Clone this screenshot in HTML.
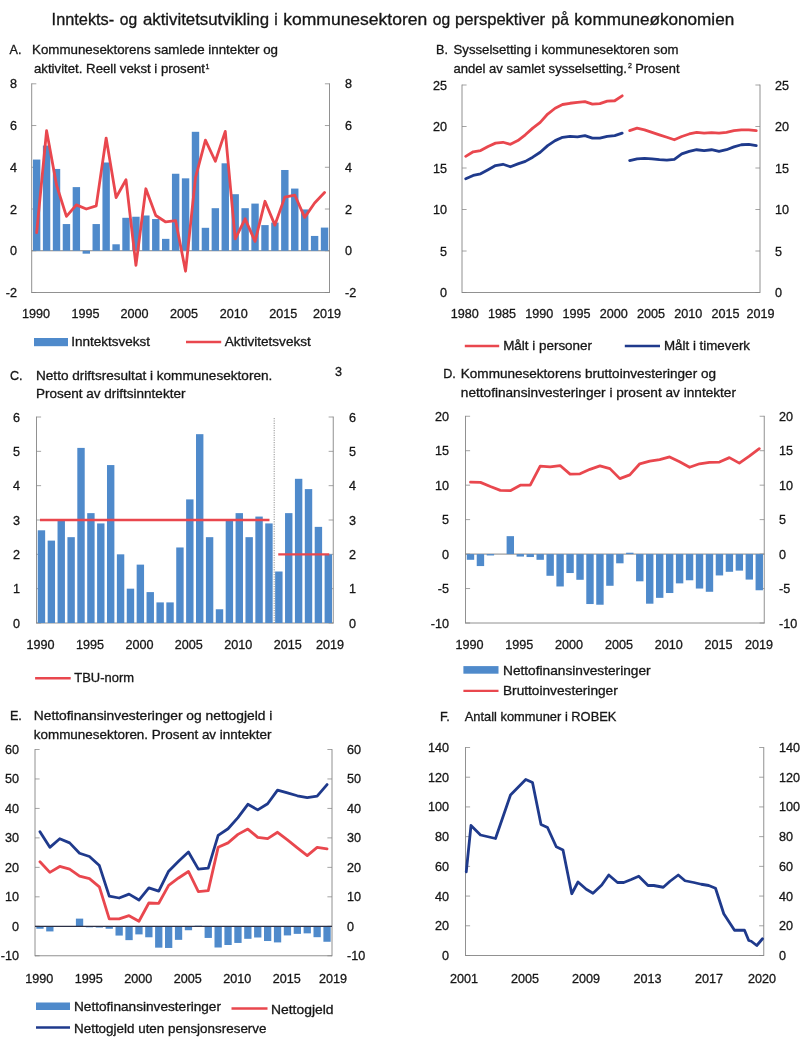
<!DOCTYPE html>
<html lang="no">
<head>
<meta charset="utf-8">
<title>Inntekts- og aktivitetsutvikling i kommunesektoren</title>
<style>
html,body{margin:0;padding:0;background:#fff}
svg{display:block}
text{stroke:#161616;stroke-width:.3px}
</style>
</head>
<body>
<svg width="800" height="1047" viewBox="0 0 800 1047">
<g font-family='"Liberation Sans", sans-serif' fill="#161616">
<text x="51.6" y="25" font-size="15.6" textLength="62.6" lengthAdjust="spacingAndGlyphs">Inntekts-</text>
<text x="128.5" y="25" font-size="15.6" text-anchor="middle">og</text>
<text x="142.9" y="25" font-size="15.6" textLength="126.1" lengthAdjust="spacingAndGlyphs">aktivitetsutvikling</text>
<text x="276" y="25" font-size="15.6" text-anchor="middle">i</text>
<text x="283.3" y="25" font-size="15.6" textLength="143.9" lengthAdjust="spacingAndGlyphs">kommunesektoren</text>
<text x="441.5" y="25" font-size="15.6" text-anchor="middle">og</text>
<text x="455" y="25" font-size="15.6" textLength="90.1" lengthAdjust="spacingAndGlyphs">perspektiver</text>
<text x="560.3" y="25" font-size="15.6" text-anchor="middle">på</text>
<text x="574.3" y="25" font-size="15.6" textLength="159.9" lengthAdjust="spacingAndGlyphs">kommuneøkonomien</text>
<line x1="31.7" y1="83.4" x2="31.7" y2="292.95" stroke="#858585" stroke-width="0.9"/>
<line x1="329.5" y1="83.4" x2="329.5" y2="292.95" stroke="#858585" stroke-width="0.9"/>
<line x1="31.7" y1="292.5" x2="329.5" y2="292.5" stroke="#858585" stroke-width="0.9"/>
<line x1="31.7" y1="292.5" x2="36.3" y2="292.5" stroke="#858585" stroke-width="0.75"/>
<line x1="324.9" y1="292.5" x2="329.5" y2="292.5" stroke="#858585" stroke-width="0.75"/>
<text x="17" y="297" font-size="12.6" text-anchor="end">-2</text>
<text x="345" y="297" font-size="12.6">-2</text>
<line x1="31.7" y1="250.76" x2="36.3" y2="250.76" stroke="#858585" stroke-width="0.75"/>
<line x1="324.9" y1="250.76" x2="329.5" y2="250.76" stroke="#858585" stroke-width="0.75"/>
<text x="17" y="255.26" font-size="12.6" text-anchor="end">0</text>
<text x="345" y="255.26" font-size="12.6">0</text>
<line x1="31.7" y1="209.02" x2="36.3" y2="209.02" stroke="#858585" stroke-width="0.75"/>
<line x1="324.9" y1="209.02" x2="329.5" y2="209.02" stroke="#858585" stroke-width="0.75"/>
<text x="17" y="213.52" font-size="12.6" text-anchor="end">2</text>
<text x="345" y="213.52" font-size="12.6">2</text>
<line x1="31.7" y1="167.28" x2="36.3" y2="167.28" stroke="#858585" stroke-width="0.75"/>
<line x1="324.9" y1="167.28" x2="329.5" y2="167.28" stroke="#858585" stroke-width="0.75"/>
<text x="17" y="171.78" font-size="12.6" text-anchor="end">4</text>
<text x="345" y="171.78" font-size="12.6">4</text>
<line x1="31.7" y1="125.54" x2="36.3" y2="125.54" stroke="#858585" stroke-width="0.75"/>
<line x1="324.9" y1="125.54" x2="329.5" y2="125.54" stroke="#858585" stroke-width="0.75"/>
<text x="17" y="130.04" font-size="12.6" text-anchor="end">6</text>
<text x="345" y="130.04" font-size="12.6">6</text>
<line x1="31.7" y1="83.8" x2="36.3" y2="83.8" stroke="#858585" stroke-width="0.75"/>
<line x1="324.9" y1="83.8" x2="329.5" y2="83.8" stroke="#858585" stroke-width="0.75"/>
<text x="17" y="88.3" font-size="12.6" text-anchor="end">8</text>
<text x="345" y="88.3" font-size="12.6">8</text>
<line x1="31.7" y1="250.76" x2="329.5" y2="250.76" stroke="#858585" stroke-width="1"/>
<rect x="32.96" y="159.56" width="7.4" height="91.2" fill="#4f8acb"/>
<rect x="42.89" y="145.58" width="7.4" height="105.18" fill="#4f8acb"/>
<rect x="52.82" y="168.95" width="7.4" height="81.81" fill="#4f8acb"/>
<rect x="62.74" y="224.05" width="7.4" height="26.71" fill="#4f8acb"/>
<rect x="72.67" y="187.11" width="7.4" height="63.65" fill="#4f8acb"/>
<rect x="82.6" y="250.76" width="7.4" height="2.92" fill="#4f8acb"/>
<rect x="92.52" y="224.05" width="7.4" height="26.71" fill="#4f8acb"/>
<rect x="102.45" y="162.48" width="7.4" height="88.28" fill="#4f8acb"/>
<rect x="112.38" y="244.29" width="7.4" height="6.47" fill="#4f8acb"/>
<rect x="122.3" y="217.79" width="7.4" height="32.97" fill="#4f8acb"/>
<rect x="132.23" y="216.74" width="7.4" height="34.02" fill="#4f8acb"/>
<rect x="142.16" y="215.49" width="7.4" height="35.27" fill="#4f8acb"/>
<rect x="152.08" y="219.04" width="7.4" height="31.72" fill="#4f8acb"/>
<rect x="162.01" y="238.86" width="7.4" height="11.9" fill="#4f8acb"/>
<rect x="171.94" y="173.75" width="7.4" height="77.01" fill="#4f8acb"/>
<rect x="181.86" y="178.34" width="7.4" height="72.42" fill="#4f8acb"/>
<rect x="191.79" y="131.8" width="7.4" height="118.96" fill="#4f8acb"/>
<rect x="201.72" y="227.8" width="7.4" height="22.96" fill="#4f8acb"/>
<rect x="211.64" y="208.19" width="7.4" height="42.57" fill="#4f8acb"/>
<rect x="221.57" y="163.31" width="7.4" height="87.45" fill="#4f8acb"/>
<rect x="231.5" y="194.2" width="7.4" height="56.56" fill="#4f8acb"/>
<rect x="241.42" y="208.19" width="7.4" height="42.57" fill="#4f8acb"/>
<rect x="251.35" y="203.59" width="7.4" height="47.17" fill="#4f8acb"/>
<rect x="261.28" y="225.09" width="7.4" height="25.67" fill="#4f8acb"/>
<rect x="271.2" y="222.59" width="7.4" height="28.17" fill="#4f8acb"/>
<rect x="281.13" y="169.99" width="7.4" height="80.77" fill="#4f8acb"/>
<rect x="291.06" y="188.57" width="7.4" height="62.19" fill="#4f8acb"/>
<rect x="300.98" y="209.44" width="7.4" height="41.32" fill="#4f8acb"/>
<rect x="310.91" y="235.94" width="7.4" height="14.82" fill="#4f8acb"/>
<rect x="320.84" y="227.59" width="7.4" height="23.17" fill="#4f8acb"/>
<polyline points="36.66,232.6 46.59,130.76 56.52,185.02 66.44,216.32 76.37,204.85 86.3,209.02 96.22,205.89 106.15,138.06 116.08,197.54 126,179.8 135.93,265.37 145.86,188.78 155.78,215.49 165.71,221.96 175.64,220.71 185.56,271.21 195.49,177.72 205.42,140.15 215.34,161.23 225.27,131.38 235.2,238.86 245.12,218.83 255.05,241.37 264.98,201.3 274.9,225.09 284.83,197.12 294.76,195.04 304.68,217.37 314.61,202.97 324.54,192.53" fill="none" stroke="#e9474e" stroke-width="2.8" stroke-linejoin="round" stroke-linecap="round"/>
<text x="36" y="317.5" font-size="12.6" text-anchor="middle">1990</text>
<text x="85.4" y="317.5" font-size="12.6" text-anchor="middle">1995</text>
<text x="134.4" y="317.5" font-size="12.6" text-anchor="middle">2000</text>
<text x="184" y="317.5" font-size="12.6" text-anchor="middle">2005</text>
<text x="233.75" y="317.5" font-size="12.6" text-anchor="middle">2010</text>
<text x="283.25" y="317.5" font-size="12.6" text-anchor="middle">2015</text>
<text x="326.9" y="317.5" font-size="12.6" text-anchor="middle">2019</text>
<text x="9.5" y="54" font-size="12.6">A.</text>
<text x="32" y="54" font-size="12.6" textLength="246" lengthAdjust="spacingAndGlyphs">Kommunesektorens samlede inntekter og</text>
<text x="34" y="73.25" font-size="12.6" textLength="171" lengthAdjust="spacingAndGlyphs">aktivitet. Reell vekst i prosent</text>
<text x="205.6" y="68.5" font-size="7">1</text>
<rect x="34" y="338" width="34" height="8.2" fill="#4f8acb"/>
<text x="71.2" y="346.4" font-size="12.6" textLength="78.8" lengthAdjust="spacingAndGlyphs">Inntektsvekst</text>
<line x1="186" y1="342" x2="221.2" y2="342" stroke="#e9474e" stroke-width="2.4"/>
<text x="224.8" y="346.4" font-size="12.6" textLength="86" lengthAdjust="spacingAndGlyphs">Aktivitetsvekst</text>
<line x1="462" y1="84.6" x2="462" y2="292.95" stroke="#858585" stroke-width="0.9"/>
<line x1="760" y1="84.6" x2="760" y2="292.95" stroke="#858585" stroke-width="0.9"/>
<line x1="462" y1="292.5" x2="760" y2="292.5" stroke="#858585" stroke-width="0.9"/>
<line x1="462" y1="292.5" x2="466.6" y2="292.5" stroke="#858585" stroke-width="0.75"/>
<line x1="755.4" y1="292.5" x2="760" y2="292.5" stroke="#858585" stroke-width="0.75"/>
<text x="447" y="297" font-size="12.6" text-anchor="end">0</text>
<text x="775" y="297" font-size="12.6">0</text>
<line x1="462" y1="251" x2="466.6" y2="251" stroke="#858585" stroke-width="0.75"/>
<line x1="755.4" y1="251" x2="760" y2="251" stroke="#858585" stroke-width="0.75"/>
<text x="447" y="255.5" font-size="12.6" text-anchor="end">5</text>
<text x="775" y="255.5" font-size="12.6">5</text>
<line x1="462" y1="209.5" x2="466.6" y2="209.5" stroke="#858585" stroke-width="0.75"/>
<line x1="755.4" y1="209.5" x2="760" y2="209.5" stroke="#858585" stroke-width="0.75"/>
<text x="447" y="214" font-size="12.6" text-anchor="end">10</text>
<text x="775" y="214" font-size="12.6">10</text>
<line x1="462" y1="168" x2="466.6" y2="168" stroke="#858585" stroke-width="0.75"/>
<line x1="755.4" y1="168" x2="760" y2="168" stroke="#858585" stroke-width="0.75"/>
<text x="447" y="172.5" font-size="12.6" text-anchor="end">15</text>
<text x="775" y="172.5" font-size="12.6">15</text>
<line x1="462" y1="126.5" x2="466.6" y2="126.5" stroke="#858585" stroke-width="0.75"/>
<line x1="755.4" y1="126.5" x2="760" y2="126.5" stroke="#858585" stroke-width="0.75"/>
<text x="447" y="131" font-size="12.6" text-anchor="end">20</text>
<text x="775" y="131" font-size="12.6">20</text>
<line x1="462" y1="85" x2="466.6" y2="85" stroke="#858585" stroke-width="0.75"/>
<line x1="755.4" y1="85" x2="760" y2="85" stroke="#858585" stroke-width="0.75"/>
<text x="447" y="89.5" font-size="12.6" text-anchor="end">25</text>
<text x="775" y="89.5" font-size="12.6">25</text>
<polyline points="465.73,156.38 473.18,151.81 480.62,150.57 488.07,146.42 495.52,143.1 502.98,142.27 510.43,144.34 517.88,140.61 525.33,134.8 532.77,128.16 540.23,122.35 547.67,114.05 555.12,108.24 562.58,104.5 570.02,103.26 577.48,102.43 584.92,101.6 592.38,104.09 599.83,103.68 607.27,101.19 614.73,100.77 622.17,95.79" fill="none" stroke="#e9474e" stroke-width="2.8" stroke-linejoin="round" stroke-linecap="round"/>
<polyline points="629.62,130.65 637.08,128.16 644.52,129.82 651.98,132.31 659.42,134.8 666.88,137.29 674.33,139.78 681.77,136.46 689.23,133.97 696.67,132.31 704.12,133.14 711.58,132.72 719.03,133.14 726.48,132.31 733.92,130.65 741.38,129.82 748.83,129.82 756.28,130.65" fill="none" stroke="#e9474e" stroke-width="2.8" stroke-linejoin="round" stroke-linecap="round"/>
<polyline points="465.73,178.79 473.18,175.47 480.62,173.81 488.07,169.66 495.52,165.51 502.98,164.26 510.43,166.75 517.88,163.85 525.33,161.36 532.77,157.21 540.23,152.23 547.67,145.59 555.12,140.61 562.58,137.29 570.02,136.46 577.48,136.88 584.92,135.63 592.38,138.12 599.83,138.12 607.27,136.46 614.73,135.63 622.17,133.14" fill="none" stroke="#1f3a8c" stroke-width="2.8" stroke-linejoin="round" stroke-linecap="round"/>
<polyline points="629.62,160.53 637.08,158.87 644.52,158.46 651.98,158.87 659.42,159.7 666.88,160.12 674.33,159.28 681.77,153.89 689.23,151.4 696.67,149.74 704.12,150.57 711.58,149.74 719.03,151.4 726.48,149.74 733.92,146.84 741.38,144.76 748.83,144.34 756.28,145.59" fill="none" stroke="#1f3a8c" stroke-width="2.8" stroke-linejoin="round" stroke-linecap="round"/>
<text x="464.7" y="317.5" font-size="12.6" text-anchor="middle">1980</text>
<text x="501.95" y="317.5" font-size="12.6" text-anchor="middle">1985</text>
<text x="539.2" y="317.5" font-size="12.6" text-anchor="middle">1990</text>
<text x="576.45" y="317.5" font-size="12.6" text-anchor="middle">1995</text>
<text x="613.7" y="317.5" font-size="12.6" text-anchor="middle">2000</text>
<text x="650.95" y="317.5" font-size="12.6" text-anchor="middle">2005</text>
<text x="688.2" y="317.5" font-size="12.6" text-anchor="middle">2010</text>
<text x="725.45" y="317.5" font-size="12.6" text-anchor="middle">2015</text>
<text x="760.5" y="317.5" font-size="12.6" text-anchor="middle">2019</text>
<text x="436" y="54" font-size="12.6">B.</text>
<text x="453.5" y="54" font-size="12.6" textLength="225" lengthAdjust="spacingAndGlyphs">Sysselsetting i kommunesektoren som</text>
<text x="453.5" y="73" font-size="12.6" textLength="173.5" lengthAdjust="spacingAndGlyphs">andel av samlet sysselsetting.</text>
<text x="628" y="68" font-size="7">2</text>
<text x="635.2" y="73" font-size="12.6" textLength="44.3" lengthAdjust="spacingAndGlyphs">Prosent</text>
<line x1="464.8" y1="346" x2="499.2" y2="346" stroke="#e9474e" stroke-width="2.4"/>
<text x="503.2" y="350.4" font-size="12.6" textLength="88.8" lengthAdjust="spacingAndGlyphs">Målt i personer</text>
<line x1="624.8" y1="346" x2="660" y2="346" stroke="#1f3a8c" stroke-width="2.4"/>
<text x="664" y="350.4" font-size="12.6" textLength="86" lengthAdjust="spacingAndGlyphs">Målt i timeverk</text>
<line x1="36.5" y1="416.6" x2="36.5" y2="623.45" stroke="#858585" stroke-width="0.9"/>
<line x1="333.25" y1="416.6" x2="333.25" y2="623.45" stroke="#858585" stroke-width="0.9"/>
<line x1="36.5" y1="623" x2="333.25" y2="623" stroke="#858585" stroke-width="0.9"/>
<line x1="36.5" y1="623" x2="41.1" y2="623" stroke="#858585" stroke-width="0.75"/>
<line x1="328.65" y1="623" x2="333.25" y2="623" stroke="#858585" stroke-width="0.75"/>
<text x="20" y="627.5" font-size="12.6" text-anchor="end">0</text>
<text x="349" y="627.5" font-size="12.6">0</text>
<line x1="36.5" y1="588.67" x2="41.1" y2="588.67" stroke="#858585" stroke-width="0.75"/>
<line x1="328.65" y1="588.67" x2="333.25" y2="588.67" stroke="#858585" stroke-width="0.75"/>
<text x="20" y="593.17" font-size="12.6" text-anchor="end">1</text>
<text x="349" y="593.17" font-size="12.6">1</text>
<line x1="36.5" y1="554.33" x2="41.1" y2="554.33" stroke="#858585" stroke-width="0.75"/>
<line x1="328.65" y1="554.33" x2="333.25" y2="554.33" stroke="#858585" stroke-width="0.75"/>
<text x="20" y="558.83" font-size="12.6" text-anchor="end">2</text>
<text x="349" y="558.83" font-size="12.6">2</text>
<line x1="36.5" y1="520" x2="41.1" y2="520" stroke="#858585" stroke-width="0.75"/>
<line x1="328.65" y1="520" x2="333.25" y2="520" stroke="#858585" stroke-width="0.75"/>
<text x="20" y="524.5" font-size="12.6" text-anchor="end">3</text>
<text x="349" y="524.5" font-size="12.6">3</text>
<line x1="36.5" y1="485.67" x2="41.1" y2="485.67" stroke="#858585" stroke-width="0.75"/>
<line x1="328.65" y1="485.67" x2="333.25" y2="485.67" stroke="#858585" stroke-width="0.75"/>
<text x="20" y="490.17" font-size="12.6" text-anchor="end">4</text>
<text x="349" y="490.17" font-size="12.6">4</text>
<line x1="36.5" y1="451.33" x2="41.1" y2="451.33" stroke="#858585" stroke-width="0.75"/>
<line x1="328.65" y1="451.33" x2="333.25" y2="451.33" stroke="#858585" stroke-width="0.75"/>
<text x="20" y="455.83" font-size="12.6" text-anchor="end">5</text>
<text x="349" y="455.83" font-size="12.6">5</text>
<line x1="36.5" y1="417" x2="41.1" y2="417" stroke="#858585" stroke-width="0.75"/>
<line x1="328.65" y1="417" x2="333.25" y2="417" stroke="#858585" stroke-width="0.75"/>
<text x="20" y="421.5" font-size="12.6" text-anchor="end">6</text>
<text x="349" y="421.5" font-size="12.6">6</text>
<rect x="37.75" y="530.3" width="7.4" height="92.7" fill="#4f8acb"/>
<rect x="47.64" y="540.6" width="7.4" height="82.4" fill="#4f8acb"/>
<rect x="57.53" y="520" width="7.4" height="103" fill="#4f8acb"/>
<rect x="67.42" y="537.17" width="7.4" height="85.83" fill="#4f8acb"/>
<rect x="77.31" y="447.9" width="7.4" height="175.1" fill="#4f8acb"/>
<rect x="87.2" y="513.13" width="7.4" height="109.87" fill="#4f8acb"/>
<rect x="97.1" y="523.43" width="7.4" height="99.57" fill="#4f8acb"/>
<rect x="106.99" y="465.07" width="7.4" height="157.93" fill="#4f8acb"/>
<rect x="116.88" y="554.33" width="7.4" height="68.67" fill="#4f8acb"/>
<rect x="126.77" y="588.67" width="7.4" height="34.33" fill="#4f8acb"/>
<rect x="136.66" y="564.63" width="7.4" height="58.37" fill="#4f8acb"/>
<rect x="146.55" y="592.1" width="7.4" height="30.9" fill="#4f8acb"/>
<rect x="156.45" y="602.4" width="7.4" height="20.6" fill="#4f8acb"/>
<rect x="166.34" y="602.4" width="7.4" height="20.6" fill="#4f8acb"/>
<rect x="176.23" y="547.47" width="7.4" height="75.53" fill="#4f8acb"/>
<rect x="186.12" y="499.4" width="7.4" height="123.6" fill="#4f8acb"/>
<rect x="196.01" y="434.17" width="7.4" height="188.83" fill="#4f8acb"/>
<rect x="205.9" y="537.17" width="7.4" height="85.83" fill="#4f8acb"/>
<rect x="215.8" y="609.27" width="7.4" height="13.73" fill="#4f8acb"/>
<rect x="225.69" y="520" width="7.4" height="103" fill="#4f8acb"/>
<rect x="235.58" y="513.13" width="7.4" height="109.87" fill="#4f8acb"/>
<rect x="245.47" y="537.17" width="7.4" height="85.83" fill="#4f8acb"/>
<rect x="255.36" y="516.57" width="7.4" height="106.43" fill="#4f8acb"/>
<rect x="265.25" y="523.43" width="7.4" height="99.57" fill="#4f8acb"/>
<rect x="275.15" y="571.5" width="7.4" height="51.5" fill="#4f8acb"/>
<rect x="285.04" y="513.13" width="7.4" height="109.87" fill="#4f8acb"/>
<rect x="294.93" y="478.8" width="7.4" height="144.2" fill="#4f8acb"/>
<rect x="304.82" y="489.1" width="7.4" height="133.9" fill="#4f8acb"/>
<rect x="314.71" y="526.87" width="7.4" height="96.13" fill="#4f8acb"/>
<rect x="324.6" y="554.33" width="7.4" height="68.67" fill="#4f8acb"/>
<line x1="274.2" y1="418" x2="274.2" y2="623" stroke="#777" stroke-width="0.8" stroke-dasharray="1.2,1.2"/>
<line x1="40" y1="520" x2="269.5" y2="520" stroke="#e9474e" stroke-width="2.3"/>
<line x1="278.25" y1="554.33" x2="329.25" y2="554.33" stroke="#e9474e" stroke-width="2.3"/>
<text x="40.5" y="649" font-size="12.6" text-anchor="middle">1990</text>
<text x="89.95" y="649" font-size="12.6" text-anchor="middle">1995</text>
<text x="139.4" y="649" font-size="12.6" text-anchor="middle">2000</text>
<text x="188.85" y="649" font-size="12.6" text-anchor="middle">2005</text>
<text x="238.3" y="649" font-size="12.6" text-anchor="middle">2010</text>
<text x="287.75" y="649" font-size="12.6" text-anchor="middle">2015</text>
<text x="330" y="649" font-size="12.6" text-anchor="middle">2019</text>
<text x="9.9" y="379.75" font-size="12.6">C.</text>
<text x="36" y="379.75" font-size="12.6" textLength="236.3" lengthAdjust="spacingAndGlyphs">Netto driftsresultat i kommunesektoren.</text>
<text x="36" y="397.75" font-size="12.6" textLength="149.4" lengthAdjust="spacingAndGlyphs">Prosent av driftsinntekter</text>
<text x="335" y="375.8" font-size="12.6">3</text>
<line x1="35.1" y1="678.25" x2="70.7" y2="678.25" stroke="#e9474e" stroke-width="2.4"/>
<text x="74.25" y="682" font-size="12.6" textLength="59.75" lengthAdjust="spacingAndGlyphs">TBU-norm</text>
<line x1="465.5" y1="415.85" x2="465.5" y2="623.45" stroke="#858585" stroke-width="0.9"/>
<line x1="764.25" y1="415.85" x2="764.25" y2="623.45" stroke="#858585" stroke-width="0.9"/>
<line x1="465.5" y1="623" x2="764.25" y2="623" stroke="#858585" stroke-width="0.9"/>
<line x1="465.5" y1="623" x2="470.1" y2="623" stroke="#858585" stroke-width="0.75"/>
<line x1="759.65" y1="623" x2="764.25" y2="623" stroke="#858585" stroke-width="0.75"/>
<text x="449" y="627.5" font-size="12.6" text-anchor="end">-10</text>
<text x="779" y="627.5" font-size="12.6">-10</text>
<line x1="465.5" y1="588.54" x2="470.1" y2="588.54" stroke="#858585" stroke-width="0.75"/>
<line x1="759.65" y1="588.54" x2="764.25" y2="588.54" stroke="#858585" stroke-width="0.75"/>
<text x="449" y="593.04" font-size="12.6" text-anchor="end">-5</text>
<text x="779" y="593.04" font-size="12.6">-5</text>
<line x1="465.5" y1="554.08" x2="470.1" y2="554.08" stroke="#858585" stroke-width="0.75"/>
<line x1="759.65" y1="554.08" x2="764.25" y2="554.08" stroke="#858585" stroke-width="0.75"/>
<text x="449" y="558.58" font-size="12.6" text-anchor="end">0</text>
<text x="779" y="558.58" font-size="12.6">0</text>
<line x1="465.5" y1="519.62" x2="470.1" y2="519.62" stroke="#858585" stroke-width="0.75"/>
<line x1="759.65" y1="519.62" x2="764.25" y2="519.62" stroke="#858585" stroke-width="0.75"/>
<text x="449" y="524.12" font-size="12.6" text-anchor="end">5</text>
<text x="779" y="524.12" font-size="12.6">5</text>
<line x1="465.5" y1="485.17" x2="470.1" y2="485.17" stroke="#858585" stroke-width="0.75"/>
<line x1="759.65" y1="485.17" x2="764.25" y2="485.17" stroke="#858585" stroke-width="0.75"/>
<text x="449" y="489.67" font-size="12.6" text-anchor="end">10</text>
<text x="779" y="489.67" font-size="12.6">10</text>
<line x1="465.5" y1="450.71" x2="470.1" y2="450.71" stroke="#858585" stroke-width="0.75"/>
<line x1="759.65" y1="450.71" x2="764.25" y2="450.71" stroke="#858585" stroke-width="0.75"/>
<text x="449" y="455.21" font-size="12.6" text-anchor="end">15</text>
<text x="779" y="455.21" font-size="12.6">15</text>
<line x1="465.5" y1="416.25" x2="470.1" y2="416.25" stroke="#858585" stroke-width="0.75"/>
<line x1="759.65" y1="416.25" x2="764.25" y2="416.25" stroke="#858585" stroke-width="0.75"/>
<text x="449" y="420.75" font-size="12.6" text-anchor="end">20</text>
<text x="779" y="420.75" font-size="12.6">20</text>
<line x1="465.5" y1="554.08" x2="764.25" y2="554.08" stroke="#858585" stroke-width="1"/>
<rect x="466.78" y="554.08" width="7.4" height="5.72" fill="#4f8acb"/>
<rect x="476.74" y="554.08" width="7.4" height="11.99" fill="#4f8acb"/>
<rect x="486.7" y="554.08" width="7.4" height="1.38" fill="#4f8acb"/>
<rect x="506.61" y="536.16" width="7.4" height="17.92" fill="#4f8acb"/>
<rect x="516.57" y="554.08" width="7.4" height="2.48" fill="#4f8acb"/>
<rect x="526.53" y="554.08" width="7.4" height="2.96" fill="#4f8acb"/>
<rect x="536.49" y="554.08" width="7.4" height="5.72" fill="#4f8acb"/>
<rect x="546.45" y="554.08" width="7.4" height="21.71" fill="#4f8acb"/>
<rect x="556.4" y="554.08" width="7.4" height="32.39" fill="#4f8acb"/>
<rect x="566.36" y="554.08" width="7.4" height="18.95" fill="#4f8acb"/>
<rect x="576.32" y="554.08" width="7.4" height="25.71" fill="#4f8acb"/>
<rect x="586.28" y="554.08" width="7.4" height="49.96" fill="#4f8acb"/>
<rect x="596.24" y="554.08" width="7.4" height="50.65" fill="#4f8acb"/>
<rect x="606.2" y="554.08" width="7.4" height="31.7" fill="#4f8acb"/>
<rect x="616.15" y="554.08" width="7.4" height="9.23" fill="#4f8acb"/>
<rect x="626.11" y="552.71" width="7.4" height="1.38" fill="#4f8acb"/>
<rect x="636.07" y="554.08" width="7.4" height="27.22" fill="#4f8acb"/>
<rect x="646.03" y="554.08" width="7.4" height="49.62" fill="#4f8acb"/>
<rect x="655.99" y="554.08" width="7.4" height="43.76" fill="#4f8acb"/>
<rect x="665.95" y="554.08" width="7.4" height="38.94" fill="#4f8acb"/>
<rect x="675.9" y="554.08" width="7.4" height="29.29" fill="#4f8acb"/>
<rect x="685.86" y="554.08" width="7.4" height="26.19" fill="#4f8acb"/>
<rect x="695.82" y="554.08" width="7.4" height="34.46" fill="#4f8acb"/>
<rect x="705.78" y="554.08" width="7.4" height="37.7" fill="#4f8acb"/>
<rect x="715.74" y="554.08" width="7.4" height="21.36" fill="#4f8acb"/>
<rect x="725.7" y="554.08" width="7.4" height="17.71" fill="#4f8acb"/>
<rect x="735.65" y="554.08" width="7.4" height="16.54" fill="#4f8acb"/>
<rect x="745.61" y="554.08" width="7.4" height="25.5" fill="#4f8acb"/>
<rect x="755.57" y="554.08" width="7.4" height="36.18" fill="#4f8acb"/>
<polyline points="470.48,482.2 480.44,482.41 490.4,486.54 500.35,490.34 510.31,490.68 520.27,485.17 530.23,485.17 540.19,466.21 550.15,466.9 560.1,465.53 570.06,474.14 580.02,473.8 589.98,469.32 599.94,465.87 609.9,468.63 619.85,478.62 629.81,474.83 639.77,463.8 649.73,461.05 659.69,459.67 669.65,456.91 679.6,461.74 689.56,467.25 699.52,463.8 709.48,462.42 719.44,462.08 729.4,457.6 739.35,463.11 749.31,456.22 759.27,448.64" fill="none" stroke="#e9474e" stroke-width="2.8" stroke-linejoin="round" stroke-linecap="round"/>
<text x="469.5" y="649" font-size="12.6" text-anchor="middle">1990</text>
<text x="519.3" y="649" font-size="12.6" text-anchor="middle">1995</text>
<text x="569.1" y="649" font-size="12.6" text-anchor="middle">2000</text>
<text x="618.9" y="649" font-size="12.6" text-anchor="middle">2005</text>
<text x="668.7" y="649" font-size="12.6" text-anchor="middle">2010</text>
<text x="718.5" y="649" font-size="12.6" text-anchor="middle">2015</text>
<text x="759" y="649" font-size="12.6" text-anchor="middle">2019</text>
<text x="443.2" y="378" font-size="12.6">D.</text>
<text x="460.8" y="378" font-size="12.6" textLength="255.2" lengthAdjust="spacingAndGlyphs">Kommunesektorens bruttoinvesteringer og</text>
<text x="460.8" y="396.8" font-size="12.6" textLength="275.2" lengthAdjust="spacingAndGlyphs">nettofinansinvesteringer i prosent av inntekter</text>
<rect x="463.4" y="666.1" width="35.1" height="7.6" fill="#4f8acb"/>
<text x="503" y="674.6" font-size="12.6" textLength="147.6" lengthAdjust="spacingAndGlyphs">Nettofinansinvesteringer</text>
<line x1="463.4" y1="690.85" x2="498.5" y2="690.85" stroke="#e9474e" stroke-width="2.4"/>
<text x="503" y="694.9" font-size="12.6" textLength="114.75" lengthAdjust="spacingAndGlyphs">Bruttoinvesteringer</text>
<line x1="35" y1="749.1" x2="35" y2="956.2" stroke="#858585" stroke-width="0.9"/>
<line x1="332" y1="749.1" x2="332" y2="956.2" stroke="#858585" stroke-width="0.9"/>
<line x1="35" y1="955.75" x2="332" y2="955.75" stroke="#858585" stroke-width="0.9"/>
<line x1="35" y1="955.75" x2="39.6" y2="955.75" stroke="#858585" stroke-width="0.75"/>
<line x1="327.4" y1="955.75" x2="332" y2="955.75" stroke="#858585" stroke-width="0.75"/>
<text x="19" y="960.25" font-size="12.6" text-anchor="end">-10</text>
<text x="347" y="960.25" font-size="12.6">-10</text>
<line x1="35" y1="926.29" x2="39.6" y2="926.29" stroke="#858585" stroke-width="0.75"/>
<line x1="327.4" y1="926.29" x2="332" y2="926.29" stroke="#858585" stroke-width="0.75"/>
<text x="19" y="930.79" font-size="12.6" text-anchor="end">0</text>
<text x="347" y="930.79" font-size="12.6">0</text>
<line x1="35" y1="896.82" x2="39.6" y2="896.82" stroke="#858585" stroke-width="0.75"/>
<line x1="327.4" y1="896.82" x2="332" y2="896.82" stroke="#858585" stroke-width="0.75"/>
<text x="19" y="901.32" font-size="12.6" text-anchor="end">10</text>
<text x="347" y="901.32" font-size="12.6">10</text>
<line x1="35" y1="867.36" x2="39.6" y2="867.36" stroke="#858585" stroke-width="0.75"/>
<line x1="327.4" y1="867.36" x2="332" y2="867.36" stroke="#858585" stroke-width="0.75"/>
<text x="19" y="871.86" font-size="12.6" text-anchor="end">20</text>
<text x="347" y="871.86" font-size="12.6">20</text>
<line x1="35" y1="837.89" x2="39.6" y2="837.89" stroke="#858585" stroke-width="0.75"/>
<line x1="327.4" y1="837.89" x2="332" y2="837.89" stroke="#858585" stroke-width="0.75"/>
<text x="19" y="842.39" font-size="12.6" text-anchor="end">30</text>
<text x="347" y="842.39" font-size="12.6">30</text>
<line x1="35" y1="808.43" x2="39.6" y2="808.43" stroke="#858585" stroke-width="0.75"/>
<line x1="327.4" y1="808.43" x2="332" y2="808.43" stroke="#858585" stroke-width="0.75"/>
<text x="19" y="812.93" font-size="12.6" text-anchor="end">40</text>
<text x="347" y="812.93" font-size="12.6">40</text>
<line x1="35" y1="778.96" x2="39.6" y2="778.96" stroke="#858585" stroke-width="0.75"/>
<line x1="327.4" y1="778.96" x2="332" y2="778.96" stroke="#858585" stroke-width="0.75"/>
<text x="19" y="783.46" font-size="12.6" text-anchor="end">50</text>
<text x="347" y="783.46" font-size="12.6">50</text>
<line x1="35" y1="749.5" x2="39.6" y2="749.5" stroke="#858585" stroke-width="0.75"/>
<line x1="327.4" y1="749.5" x2="332" y2="749.5" stroke="#858585" stroke-width="0.75"/>
<text x="19" y="754" font-size="12.6" text-anchor="end">60</text>
<text x="347" y="754" font-size="12.6">60</text>
<rect x="36.3" y="926.29" width="7.3" height="2.45" fill="#4f8acb"/>
<rect x="46.2" y="926.29" width="7.3" height="5.13" fill="#4f8acb"/>
<rect x="56.1" y="926.29" width="7.3" height="0.59" fill="#4f8acb"/>
<rect x="75.9" y="918.62" width="7.3" height="7.66" fill="#4f8acb"/>
<rect x="85.8" y="926.29" width="7.3" height="1.06" fill="#4f8acb"/>
<rect x="95.7" y="926.29" width="7.3" height="1.27" fill="#4f8acb"/>
<rect x="105.6" y="926.29" width="7.3" height="2.45" fill="#4f8acb"/>
<rect x="115.5" y="926.29" width="7.3" height="9.28" fill="#4f8acb"/>
<rect x="125.4" y="926.29" width="7.3" height="13.85" fill="#4f8acb"/>
<rect x="135.3" y="926.29" width="7.3" height="8.1" fill="#4f8acb"/>
<rect x="145.2" y="926.29" width="7.3" height="10.99" fill="#4f8acb"/>
<rect x="155.1" y="926.29" width="7.3" height="21.36" fill="#4f8acb"/>
<rect x="165" y="926.29" width="7.3" height="21.66" fill="#4f8acb"/>
<rect x="174.9" y="926.29" width="7.3" height="13.55" fill="#4f8acb"/>
<rect x="184.8" y="926.29" width="7.3" height="3.95" fill="#4f8acb"/>
<rect x="194.7" y="925.7" width="7.3" height="0.59" fill="#4f8acb"/>
<rect x="204.6" y="926.29" width="7.3" height="11.64" fill="#4f8acb"/>
<rect x="214.5" y="926.29" width="7.3" height="21.21" fill="#4f8acb"/>
<rect x="224.4" y="926.29" width="7.3" height="18.71" fill="#4f8acb"/>
<rect x="234.3" y="926.29" width="7.3" height="16.65" fill="#4f8acb"/>
<rect x="244.2" y="926.29" width="7.3" height="12.52" fill="#4f8acb"/>
<rect x="254.1" y="926.29" width="7.3" height="11.2" fill="#4f8acb"/>
<rect x="264" y="926.29" width="7.3" height="14.73" fill="#4f8acb"/>
<rect x="273.9" y="926.29" width="7.3" height="16.12" fill="#4f8acb"/>
<rect x="283.8" y="926.29" width="7.3" height="9.13" fill="#4f8acb"/>
<rect x="293.7" y="926.29" width="7.3" height="7.57" fill="#4f8acb"/>
<rect x="303.6" y="926.29" width="7.3" height="7.07" fill="#4f8acb"/>
<rect x="313.5" y="926.29" width="7.3" height="10.9" fill="#4f8acb"/>
<rect x="323.4" y="926.29" width="7.3" height="15.47" fill="#4f8acb"/>
<line x1="35" y1="926.29" x2="332" y2="926.29" stroke="#2a2f45" stroke-width="1.2"/>
<polyline points="39.95,861.76 49.85,872.37 59.75,866.47 69.65,869.12 79.55,876.2 89.45,878.55 99.35,886.8 109.25,918.92 119.15,918.92 129.05,915.68 138.95,921.28 148.85,903.01 158.75,903.3 168.65,885.33 178.55,877.96 188.45,871.48 198.35,891.52 208.25,890.63 218.15,847.32 228.05,842.9 237.95,834.36 247.85,829.05 257.75,837.3 267.65,838.63 277.55,832.29 287.45,839.96 297.35,847.91 307.25,855.57 317.15,847.32 327.05,848.79" fill="none" stroke="#e9474e" stroke-width="2.8" stroke-linejoin="round" stroke-linecap="round"/>
<polyline points="39.95,831.71 49.85,847.32 59.75,838.78 69.65,842.9 79.55,853.21 89.45,856.46 99.35,865.59 109.25,896.08 119.15,898 129.05,894.17 138.95,900.06 148.85,887.83 158.75,891.08 168.65,871.19 178.55,861.17 188.45,852.04 198.35,869.12 208.25,868.09 218.15,835.39 228.05,828.76 237.95,817.56 247.85,804.3 257.75,809.9 267.65,803.71 277.55,790.16 287.45,792.96 297.35,795.76 307.25,797.53 317.15,796.2 327.05,784.56" fill="none" stroke="#1f3a8c" stroke-width="2.8" stroke-linejoin="round" stroke-linecap="round"/>
<text x="39.25" y="982.5" font-size="12.6" text-anchor="middle">1990</text>
<text x="88.75" y="982.5" font-size="12.6" text-anchor="middle">1995</text>
<text x="138.25" y="982.5" font-size="12.6" text-anchor="middle">2000</text>
<text x="187.75" y="982.5" font-size="12.6" text-anchor="middle">2005</text>
<text x="237.25" y="982.5" font-size="12.6" text-anchor="middle">2010</text>
<text x="286.75" y="982.5" font-size="12.6" text-anchor="middle">2015</text>
<text x="333" y="982.5" font-size="12.6" text-anchor="middle">2019</text>
<text x="9.9" y="720" font-size="12.6">E.</text>
<text x="33.75" y="720" font-size="12.6" textLength="238.55" lengthAdjust="spacingAndGlyphs">Nettofinansinvesteringer og nettogjeld i</text>
<text x="33.75" y="739" font-size="12.6" textLength="237.65" lengthAdjust="spacingAndGlyphs">kommunesektoren. Prosent av inntekter</text>
<rect x="36" y="1002.5" width="34" height="7.5" fill="#4f8acb"/>
<text x="74" y="1011" font-size="12.6" textLength="147" lengthAdjust="spacingAndGlyphs">Nettofinansinvesteringer</text>
<line x1="231.5" y1="1008.5" x2="267.5" y2="1008.5" stroke="#e9474e" stroke-width="2.4"/>
<text x="271" y="1013.5" font-size="12.6" textLength="62.5" lengthAdjust="spacingAndGlyphs">Nettogjeld</text>
<line x1="36" y1="1027.5" x2="70" y2="1027.5" stroke="#1f3a8c" stroke-width="2.4"/>
<text x="74" y="1032.5" font-size="12.6" textLength="192.5" lengthAdjust="spacingAndGlyphs">Nettogjeld uten pensjonsreserve</text>
<line x1="465.5" y1="747.1" x2="465.5" y2="955.95" stroke="#858585" stroke-width="0.9"/>
<line x1="763.75" y1="747.1" x2="763.75" y2="955.95" stroke="#858585" stroke-width="0.9"/>
<line x1="465.5" y1="955.5" x2="763.75" y2="955.5" stroke="#858585" stroke-width="0.9"/>
<line x1="465.5" y1="955.5" x2="470.1" y2="955.5" stroke="#858585" stroke-width="0.75"/>
<line x1="759.15" y1="955.5" x2="763.75" y2="955.5" stroke="#858585" stroke-width="0.75"/>
<text x="449" y="960" font-size="12.6" text-anchor="end">0</text>
<text x="779" y="960" font-size="12.6">0</text>
<line x1="465.5" y1="925.79" x2="470.1" y2="925.79" stroke="#858585" stroke-width="0.75"/>
<line x1="759.15" y1="925.79" x2="763.75" y2="925.79" stroke="#858585" stroke-width="0.75"/>
<text x="449" y="930.29" font-size="12.6" text-anchor="end">20</text>
<text x="779" y="930.29" font-size="12.6">20</text>
<line x1="465.5" y1="896.07" x2="470.1" y2="896.07" stroke="#858585" stroke-width="0.75"/>
<line x1="759.15" y1="896.07" x2="763.75" y2="896.07" stroke="#858585" stroke-width="0.75"/>
<text x="449" y="900.57" font-size="12.6" text-anchor="end">40</text>
<text x="779" y="900.57" font-size="12.6">40</text>
<line x1="465.5" y1="866.36" x2="470.1" y2="866.36" stroke="#858585" stroke-width="0.75"/>
<line x1="759.15" y1="866.36" x2="763.75" y2="866.36" stroke="#858585" stroke-width="0.75"/>
<text x="449" y="870.86" font-size="12.6" text-anchor="end">60</text>
<text x="779" y="870.86" font-size="12.6">60</text>
<line x1="465.5" y1="836.64" x2="470.1" y2="836.64" stroke="#858585" stroke-width="0.75"/>
<line x1="759.15" y1="836.64" x2="763.75" y2="836.64" stroke="#858585" stroke-width="0.75"/>
<text x="449" y="841.14" font-size="12.6" text-anchor="end">80</text>
<text x="779" y="841.14" font-size="12.6">80</text>
<line x1="465.5" y1="806.93" x2="470.1" y2="806.93" stroke="#858585" stroke-width="0.75"/>
<line x1="759.15" y1="806.93" x2="763.75" y2="806.93" stroke="#858585" stroke-width="0.75"/>
<text x="449" y="811.43" font-size="12.6" text-anchor="end">100</text>
<text x="779" y="811.43" font-size="12.6">100</text>
<line x1="465.5" y1="777.21" x2="470.1" y2="777.21" stroke="#858585" stroke-width="0.75"/>
<line x1="759.15" y1="777.21" x2="763.75" y2="777.21" stroke="#858585" stroke-width="0.75"/>
<text x="449" y="781.71" font-size="12.6" text-anchor="end">120</text>
<text x="779" y="781.71" font-size="12.6">120</text>
<line x1="465.5" y1="747.5" x2="470.1" y2="747.5" stroke="#858585" stroke-width="0.75"/>
<line x1="759.15" y1="747.5" x2="763.75" y2="747.5" stroke="#858585" stroke-width="0.75"/>
<text x="449" y="752" font-size="12.6" text-anchor="end">140</text>
<text x="779" y="752" font-size="12.6">140</text>
<polyline points="466.25,871.75 471,825.5 480.5,835 495.5,838.5 510.5,795 525.75,779.5 532.5,782.5 541,824.5 547.5,827.5 556.25,846.75 563,850 571.75,893.75 578,882 586.25,889.25 593,893.25 601.75,885 608.75,875 617.5,882.5 617.5,882.5 623.75,882.5 631.25,879.5 638.75,876.25 648,885.5 653.75,885.5 663.25,887.25 670,881.25 678.25,875 685,880.75 693.75,882.5 701.25,884.25 708.75,885.5 715.5,888.25 723.75,913.75 734.5,930.25 744.5,930.25 748.75,940.5 751.25,941.25 756.75,945.5 762.5,938.75" fill="none" stroke="#1f3a8c" stroke-width="2.8" stroke-linejoin="round" stroke-linecap="round"/>
<text x="464" y="982.5" font-size="12.6" text-anchor="middle">2001</text>
<text x="525" y="982.5" font-size="12.6" text-anchor="middle">2005</text>
<text x="586" y="982.5" font-size="12.6" text-anchor="middle">2009</text>
<text x="647.5" y="982.5" font-size="12.6" text-anchor="middle">2013</text>
<text x="709" y="982.5" font-size="12.6" text-anchor="middle">2017</text>
<text x="762" y="982.5" font-size="12.6" text-anchor="middle">2020</text>
<text x="440" y="721" font-size="12.6">F.</text>
<text x="464.75" y="721" font-size="12.6" textLength="151.65" lengthAdjust="spacingAndGlyphs">Antall kommuner i ROBEK</text>
</g>
</svg>
</body>
</html>
